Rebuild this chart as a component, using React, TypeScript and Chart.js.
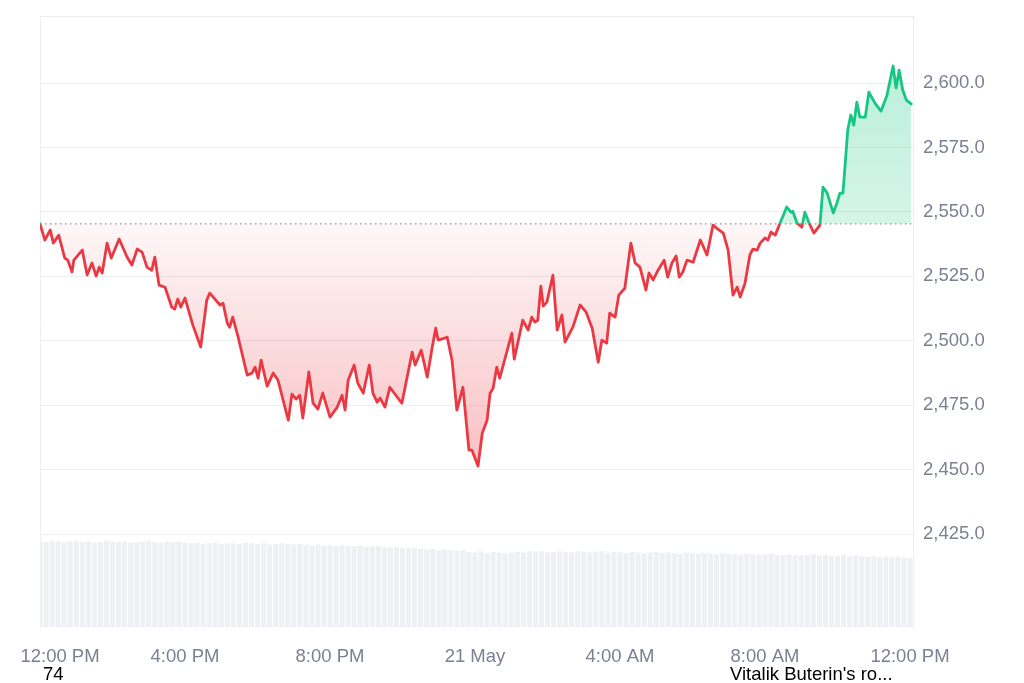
import React, { useEffect, useRef } from "react";
import { Chart, registerables } from "chart.js";

Chart.register(...registerables);

// ---- data ----
const BASELINE = 2545.4; // opening price (dotted reference line)
const X_TICK_LABELS = ["12:00 PM", "4:00 PM", "8:00 PM", "21 May", "4:00 AM", "8:00 AM", "12:00 PM"];
const X_TICK_STEP_MIN = 240;
const X_MAX_MIN = 1445;
const Y_MIN = 2389;
const Y_MAX = 2626;
const Y_STEP = 25;

// minutes after 12:00 PM (20 May)
const PRICE_MINUTES = [
  0, 8, 17, 22, 31, 41, 46, 53, 56, 70, 78, 86, 93, 98, 103, 111, 118, 131, 144, 152,
  161, 169, 177, 185, 190, 197, 207, 218, 223, 228, 233, 240, 253, 266, 276, 281, 298, 303, 310, 314,
  319, 328, 343, 351, 356, 361, 366, 376, 386, 394, 411, 417, 424, 430, 435, 445, 452, 460, 468, 480,
  492, 500, 505, 510, 520, 526, 535, 545, 551, 558, 563, 571, 579, 599, 616, 621, 631, 641, 649, 655,
  659, 674, 682, 690, 700, 710, 715, 725, 732, 740, 745, 750, 756, 761, 781, 785, 799, 808, 814, 819,
  824, 829, 833, 839, 849, 856, 864, 869, 882, 894, 904, 914, 924, 930, 938, 943, 952, 958, 968, 978,
  985, 993, 1003, 1008, 1015, 1023, 1033, 1039, 1046, 1053, 1058, 1064, 1071, 1081, 1093, 1104, 1114, 1122, 1131, 1139,
  1147, 1154, 1159, 1167, 1175, 1180, 1187, 1192, 1200, 1205, 1210, 1217, 1225, 1236, 1243, 1246, 1253, 1261, 1266, 1273,
  1281, 1291, 1296, 1303, 1313, 1319, 1324, 1329, 1332, 1337, 1342, 1347, 1352, 1357, 1366, 1372, 1382, 1392, 1402, 1412,
  1417, 1422, 1428, 1434, 1442,
];

const PRICES = [
  2545.4, 2539.1, 2543.0, 2537.9, 2541.0, 2532.1, 2531.3, 2526.7, 2531.3, 2535.2, 2525.5, 2530.2, 2525.1, 2528.6, 2526.3, 2537.9, 2532.1, 2539.5, 2532.5, 2529.4,
  2535.6, 2534.4, 2528.6, 2527.4, 2532.5, 2521.6, 2520.8, 2513.1, 2512.3, 2516.2, 2513.1, 2516.6, 2506.1, 2497.6, 2515.8, 2518.5, 2513.9, 2514.6, 2506.9, 2505.3,
  2509.2, 2501.4, 2486.7, 2487.5, 2489.8, 2485.5, 2492.5, 2482.4, 2487.5, 2484.7, 2469.2, 2479.3, 2477.4, 2478.9, 2470.0, 2487.9, 2475.8, 2473.5, 2479.7, 2470.4,
  2474.3, 2478.9, 2473.1, 2484.7, 2490.6, 2483.6, 2479.7, 2490.6, 2479.7, 2476.2, 2477.8, 2474.3, 2482.0, 2475.8, 2495.6, 2490.6, 2496.4, 2485.9, 2497.2, 2504.9,
  2500.3, 2501.4, 2492.5, 2473.1, 2482.0, 2457.6, 2457.6, 2451.4, 2464.2, 2469.2, 2479.7, 2481.6, 2489.8, 2485.5, 2503.0, 2492.9, 2508.0, 2504.2, 2509.2, 2507.3,
  2508.0, 2521.2, 2513.5, 2515.0, 2525.5, 2504.2, 2510.0, 2499.5, 2505.3, 2513.9, 2511.1, 2504.9, 2491.7, 2500.3, 2499.1, 2510.7, 2509.2, 2517.7, 2520.4, 2537.9,
  2530.2, 2528.6, 2519.7, 2526.3, 2523.6, 2527.4, 2531.3, 2524.7, 2530.2, 2532.9, 2524.7, 2526.7, 2531.3, 2530.5, 2539.1, 2533.3, 2544.9, 2543.3, 2541.8, 2535.2,
  2517.7, 2520.8, 2517.0, 2522.4, 2533.3, 2535.6, 2535.2, 2537.9, 2539.9, 2539.1, 2542.2, 2541.0, 2545.7, 2551.9, 2549.9, 2550.3, 2545.7, 2544.1, 2549.9, 2545.7,
  2541.8, 2544.9, 2559.6, 2557.3, 2549.6, 2553.4, 2557.3, 2557.3, 2566.2, 2581.8, 2587.6, 2583.7, 2592.6, 2586.8, 2586.8, 2596.5, 2592.2, 2589.1, 2595.3, 2606.6,
  2598.1, 2605.0, 2597.3, 2593.4, 2591.9,
];

// volume bars, one every 10 minutes (relative units)
const VOLUME_STEP_MIN = 10;
const VOLUME_AXIS_MAX = 1000;
const VOLUMES = [
  140, 139, 141, 140, 138, 140, 141, 139, 140, 138, 139, 141, 140, 139, 140, 138, 139, 140, 141, 139, 138, 140, 139, 140,
  138, 137, 138, 136, 137, 138, 136, 137, 137, 136, 138, 137, 136, 137, 135, 136, 137, 136, 135, 136,
  135, 134, 135, 133, 134, 132, 134, 133, 132, 133, 131, 132, 133, 131, 130, 131, 130, 129, 130,
  128, 127, 128, 126, 127, 126, 125, 126,
  123, 122, 124, 121, 123, 122, 121, 122, 123, 122,
  124, 123, 124, 122, 123, 124, 123, 122, 124, 123, 122, 123, 124, 122, 123, 122, 121, 123, 122, 121, 122, 123, 121, 122, 121, 120, 122, 121, 120, 121,
  120, 119, 121, 120, 119, 118, 120, 119, 118, 119, 120, 118, 117, 119, 118, 117, 118, 119, 117, 118, 116, 117, 118, 116, 117,
  116, 115, 116, 114, 115, 114, 115, 114, 113,
];

// ---- styles ----
const GREEN = "22,199,132";
const RED = "234,57,67";
const GRID = "#eceef2";
const TEXT = "#7b8190";
const FONT_FAMILY = "'Liberation Sans', Arial, Helvetica, sans-serif";

function baselineFraction(chart: any): number | null {
  const area = chart.chartArea;
  const y = chart.scales && chart.scales.y;
  if (!area || !y) return null;
  const py = y.getPixelForValue(BASELINE);
  return Math.min(1, Math.max(0, (py - area.top) / (area.bottom - area.top)));
}

const shiftFirstLabel = {
  id: "shiftFirstLabel",
  beforeDraw(chart: any) {
    const sc: any = chart.scales.x;
    if (!sc || !sc.getLabelItems) return;
    try {
      const items = sc.getLabelItems();
      const first = items && items[0];
      if (first && first.options && first.options.translation && !first.__shifted) {
        first.options.translation[0] += 20;
        first.__shifted = true;
      }
    } catch (e) {
      /* ignore */
    }
  },
};

export default function App() {
  const canvasRef = useRef<HTMLCanvasElement | null>(null);

  useEffect(() => {
    const canvas = canvasRef.current;
    if (!canvas) return;

    const pricePoints = PRICE_MINUTES.map((m, i) => ({ x: m, y: PRICES[i] }));
    const volumePoints = VOLUMES.map((v, i) => ({ x: i * VOLUME_STEP_MIN, y: v }));
    const baselinePoints = [
      { x: 0, y: BASELINE },
      { x: X_MAX_MIN, y: BASELINE },
    ];

    const chart = new Chart(canvas, {
      type: "line",
      data: {
        datasets: [
          {
            type: "line",
            label: "Open",
            data: baselinePoints,
            borderColor: "#8f949c",
            borderWidth: 1.2,
            borderDash: [1.5, 3.5],
            pointRadius: 0,
            fill: false,
            yAxisID: "y",
            xAxisID: "x",
            order: 0,
          },
          {
            type: "line",
            label: "Price",
            data: pricePoints,
            borderWidth: 2.8,
            borderJoinStyle: "round",
            borderCapStyle: "round",
            pointRadius: 0,
            tension: 0,
            fill: { value: BASELINE },
            borderColor: (ctx: any) => {
              const chart = ctx.chart;
              const f = baselineFraction(chart);
              if (f === null) return `rgb(${RED})`;
              const { top, bottom } = chart.chartArea;
              const g = chart.ctx.createLinearGradient(0, top, 0, bottom);
              g.addColorStop(0, `rgb(${GREEN})`);
              g.addColorStop(f, `rgb(${GREEN})`);
              g.addColorStop(Math.min(1, f + 0.0001), `rgb(${RED})`);
              g.addColorStop(1, `rgb(${RED})`);
              return g;
            },
            backgroundColor: (ctx: any) => {
              const chart = ctx.chart;
              const f = baselineFraction(chart);
              if (f === null) return `rgba(${RED},0.15)`;
              const { top, bottom } = chart.chartArea;
              const g = chart.ctx.createLinearGradient(0, top, 0, bottom);
              const low = (chart.scales.y.getPixelForValue(2450) - top) / (bottom - top);
              g.addColorStop(0, `rgba(${GREEN},0.32)`);
              g.addColorStop(f, `rgba(${GREEN},0.18)`);
              g.addColorStop(Math.min(1, f + 0.0001), `rgba(${RED},0.04)`);
              g.addColorStop(Math.min(1, Math.max(f + 0.001, low)), `rgba(${RED},0.32)`);
              g.addColorStop(1, `rgba(${RED},0.32)`);
              return g;
            },
            yAxisID: "y",
            xAxisID: "x",
            order: 1,
          },
          {
            type: "bar",
            label: "Volume",
            data: volumePoints,
            backgroundColor: "#eef0f4",
            borderWidth: 0,
            barPercentage: 1,
            categoryPercentage: 0.84,
            yAxisID: "yVol",
            xAxisID: "x",
            order: 2,
          } as any,
        ],
      },
      options: {
        responsive: false,
        animation: false,
        devicePixelRatio: 1,
        events: [],
        layout: { padding: { left: 40, top: 16, right: 0, bottom: 0 } },
        plugins: {
          legend: { display: false },
          tooltip: { enabled: false },
          title: { display: false },
        },
        scales: {
          x: {
            type: "linear",
            position: "bottom",
            offset: false,
            min: 0,
            max: X_MAX_MIN,
            grid: {
              offset: false,
              drawTicks: false,
              color: (c: any) => (c.tick && c.tick.value === 0 ? GRID : "rgba(0,0,0,0)"),
            },
            border: { display: false },
            afterBuildTicks: (s: any) => {
              s.ticks = X_TICK_LABELS.map((_, i) => ({ value: i * X_TICK_STEP_MIN }));
            },
            ticks: {
              autoSkip: false,
              maxRotation: 0,
              minRotation: 0,
              padding: 19,
              color: TEXT,
              font: { family: FONT_FAMILY, size: 18.5 },
              callback: (v: any) => {
                const n = Number(v);
                const idx = Math.round(n / X_TICK_STEP_MIN);
                return X_TICK_LABELS[idx] ?? "";
              },
            },
            afterFit: (s: any) => {
              s.height = 56;
              s.paddingLeft = 0;
              s.paddingRight = 0;
            },
          },
          xTop: {
            type: "linear",
            position: "top",
            offset: false,
            min: 0,
            max: X_MAX_MIN,
            grid: { display: false, drawTicks: false },
            ticks: { display: false },
            border: { display: true, color: GRID, width: 1 },
            afterFit: (s: any) => {
              s.height = 0;
              s.paddingLeft = 0;
              s.paddingRight = 0;
            },
          },
          y: {
            type: "linear",
            position: "right",
            min: Y_MIN,
            max: Y_MAX,
            grid: {
              drawTicks: false,
              color: (c: any) => {
                const v = c.tick ? c.tick.value : NaN;
                return v % Y_STEP === 0 && v >= 2425 && v <= 2600 ? GRID : "rgba(0,0,0,0)";
              },
            },
            border: { display: true, color: GRID, width: 1 },
            ticks: {
              stepSize: Y_STEP,
              includeBounds: false,
              padding: 10,
              color: TEXT,
              font: { family: FONT_FAMILY, size: 18.5 },
              callback: (v: any) => {
                const n = Number(v);
                if (n % Y_STEP !== 0 || n < 2425 || n > 2600) return "";
                return n.toLocaleString("en-US", { minimumFractionDigits: 1, maximumFractionDigits: 1 });
              },
            },
            afterFit: (s: any) => {
              s.width = 111;
              s.paddingTop = 0;
              s.paddingBottom = 0;
            },
          },
          yVol: {
            type: "linear",
            display: false,
            min: 0,
            max: VOLUME_AXIS_MAX,
          },
        },
      } as any,
      plugins: [shiftFirstLabel],
    });

    return () => {
      chart.destroy();
    };
  }, []);

  const noteStyle: React.CSSProperties = {
    position: "absolute",
    top: 665,
    font: `18.5px ${FONT_FAMILY}`,
    lineHeight: 1,
    color: "#000",
    whiteSpace: "nowrap",
  };

  return (
    <div style={{ position: "fixed", left: 0, top: 0, width: 1024, height: 683, background: "#fff", overflow: "hidden" }}>
      <canvas ref={canvasRef} width={1024} height={683} style={{ display: "block", width: 1024, height: 683 }} />
      <div style={{ ...noteStyle, left: 43 }}>74</div>
      <div style={{ ...noteStyle, left: 730 }}>Vitalik Buterin's ro...</div>
    </div>
  );
}
